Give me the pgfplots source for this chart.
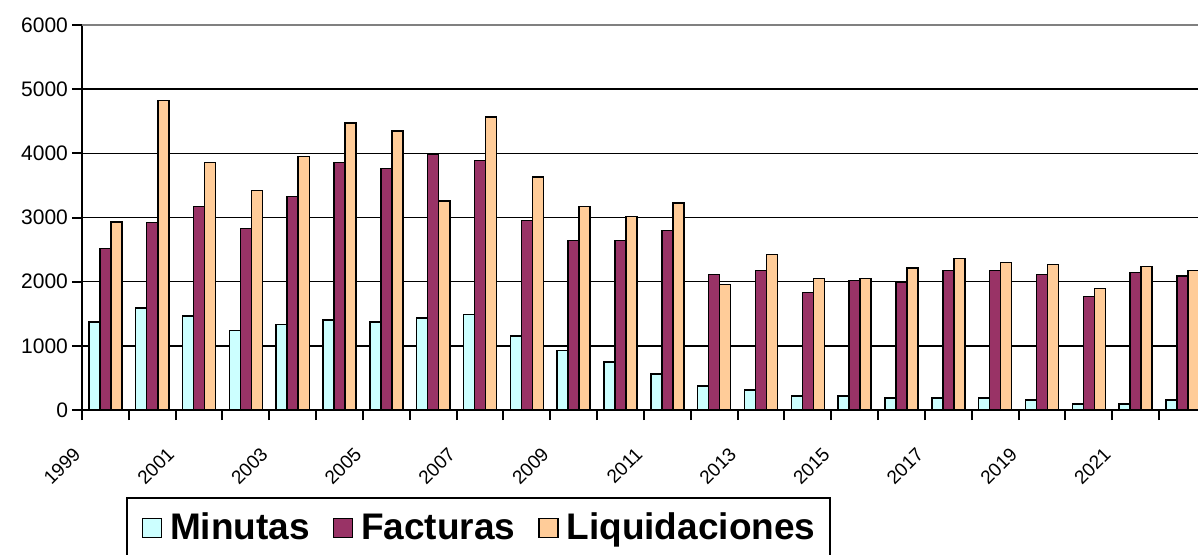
\documentclass[border=0pt]{standalone}
\usepackage{pgfplots}
\usepackage{pgfplotstable}
\pgfplotsset{compat=1.18}
\usepackage{fontspec}
\setmainfont{Liberation Sans}
\definecolor{cMin}{HTML}{CCFFFF}
\definecolor{cFac}{HTML}{993366}
\definecolor{cLiq}{HTML}{FFCC99}
\pgfplotstableread{
year mi fa li
1999 1370 2520 2930
2000 1590 2925 4820
2001 1465 3170 3855
2002 1240 2830 3420
2003 1335 3325 3950
2004 1400 3855 4475
2005 1370 3760 4350
2006 1435 3980 3260
2007 1490 3890 4570
2008 1150 2955 3635
2009 930 2640 3170
2010 745 2640 3015
2011 560 2795 3230
2012 375 2115 1955
2013 310 2175 2425
2014 215 1835 2050
2015 215 2020 2050
2016 185 1990 2210
2017 185 2175 2365
2018 185 2175 2300
2019 155 2115 2270
2020 95 1770 1895
2021 95 2145 2240
2022 155 2085 2175
}\data
\pgfplotsset{mybar/.style={ybar, bar width=0.235, bar shift=0pt, draw=black, line width=0.75pt,
  legend image code/.code={\draw[##1,line width=0.6pt] (0pt,-4.75pt) rectangle (9.5pt,4.75pt);}}}
\begin{document}
\begin{tikzpicture}
\begin{axis}[name=ax, at={(0,0)}, anchor=south west,
  scale only axis, width=558pt, height=192.5pt,
  xmin=0, xmax=23.83, ymin=0, ymax=6000,
  axis x line*=bottom, axis y line*=left,
  axis line style={line width=1pt, black},
  ytick={0,1000,...,5000},
  extra y ticks={6000},
  extra y tick style={ymajorgrids=true, major grid style={gray, line width=1pt}},
  ymajorgrids, major grid style={black, line width=0.8pt},
  xtick={0,...,23},
  xticklabels={1999,,2001,,2003,,2005,,2007,,2009,,2011,,2013,,2015,,2017,,2019,,2021,},
  tick align=outside, major tick length=5pt,
  tick style={black, line width=1pt},
  /pgf/number format/assume math mode=true,
  /pgf/number format/1000 sep={},
  yticklabel style={font=\fontsize{10.5}{12}\selectfont, xshift=1.5pt},
  xticklabel style={font=\fontsize{9.5}{11}\selectfont, rotate=45, anchor=east},
  xticklabel shift=13pt,
  legend style={at={(0.0394,-0.226)}, anchor=north west, legend columns=3,
    draw=black, line width=1pt, font=\bfseries\fontsize{18.5}{22}\selectfont,
    inner xsep=7.5pt, inner ysep=7.5pt,
    nodes={inner sep=0pt},
    /tikz/every odd column/.append style={column sep=4pt},
    /tikz/every even column/.append style={column sep=11.5pt}},
]
\addplot[mybar, fill=cMin] table[x expr=\thisrow{year}-1998.5-0.235, y=mi] {\data};
\addplot[mybar, fill=cFac] table[x expr=\thisrow{year}-1998.5, y=fa] {\data};
\addplot[mybar, fill=cLiq] table[x expr=\thisrow{year}-1998.5+0.235, y=li] {\data};
\legend{Minutas, Facturas, Liquidaciones}
\end{axis}
\pgfresetboundingbox
\path[use as bounding box] (ax.south west) ++(-41pt,-72pt) rectangle ++(599pt,277pt);
\end{tikzpicture}
\end{document}
